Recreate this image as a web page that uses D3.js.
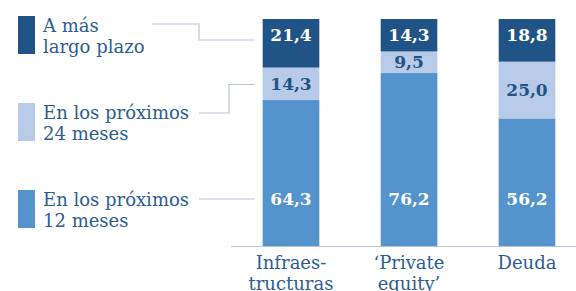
<!DOCTYPE html>
<html>
<head>
<meta charset="utf-8">
<script src="https://cdn.jsdelivr.net/npm/d3@7"></script>
<style>
  body { margin: 0; background: #fff; }
  svg { display: block; }
  text { font-family: 'DejaVu Serif', serif; }
</style>
</head>
<body>
<div id="chart"></div>
<script>
// Data
const categories = ['Infraes-|tructuras', '‘Private|equity’', 'Deuda'];
const series = ['12m', '24m', 'largo'];
const seriesLabels = [['En los próximos', '12 meses'], ['En los próximos', '24 meses'], ['A más', 'largo plazo']];
const values12 = [64.3, 76.2, 56.2];
const values24 = [14.3, 9.5, 25.0];
const valuesLargo = [21.4, 14.3, 18.8];

const color = ['#5593cc', '#b7cae8', '#215486'];
const textColor = '#2b5d92';
const lineColor = '#b9c3d9';

const width = 576;
const height = 291;

const svg = d3
  .select('#chart')
  .append('svg')
  .attr('width', width)
  .attr('height', height);

const rows = categories.map((c, i) => ({
  cat: c,
  '12m': values12[i],
  '24m': values24[i],
  largo: valuesLargo[i],
}));

const stacked = d3.stack().keys(series)(rows);

const x = d3.scaleBand().domain(categories).range([232, 586]).paddingInner(0.52).paddingOuter(0.26);
const y = d3.scaleLinear().domain([0, 100]).range([246, 19]);

// bars
stacked.forEach((layer, li) => {
  svg
    .append('g')
    .selectAll('rect')
    .data(layer)
    .join('rect')
    .attr('x', (d) => x(d.data.cat))
    .attr('y', (d) => y(d[1]))
    .attr('width', x.bandwidth())
    .attr('height', (d) => y(d[0]) - y(d[1]))
    .attr('fill', color[li]);
});

// value labels
const fmt = (v) => d3.format('.1f')(v).replace('.', ',');
stacked.forEach((layer, li) => {
  svg
    .append('g')
    .selectAll('text')
    .data(layer)
    .join('text')
    .attr('x', (d) => x(d.data.cat) + x.bandwidth() / 2)
    .attr('y', (d) => {
      if (li === 0) return y(0) - 47;
      if (li === 2) return y(100) + 16;
      return (y(d[0]) + y(d[1])) / 2;
    })
    .attr('dy', '0.36em')
    .attr('text-anchor', 'middle')
    .attr('font-size', '17px')
    .attr('font-weight', 'bold')
    .attr('fill', li === 1 ? color[2] : '#fff')
    .text((d) => fmt(d[1] - d[0]));
});

// baseline
svg
  .append('line')
  .attr('x1', 231)
  .attr('x2', width)
  .attr('y1', y(0) + 0.5)
  .attr('y2', y(0) + 0.5)
  .attr('stroke', lineColor)
  .attr('stroke-width', 1.2);

// category labels
categories.forEach((c) => {
  const t = svg
    .append('text')
    .attr('x', x(c) + x.bandwidth() / 2)
    .attr('y', 269)
    .attr('text-anchor', 'middle')
    .attr('font-size', '18px')
    .attr('fill', textColor);
  c.split('|').forEach((line, i) => {
    t.append('tspan')
      .attr('x', x(c) + x.bandwidth() / 2)
      .attr('dy', i === 0 ? 0 : 21)
      .text(line);
  });
});

// legend
const legendY = [209, 122, 35];
series.forEach((s, i) => {
  const cy = legendY[i];
  svg
    .append('rect')
    .attr('x', 18)
    .attr('y', cy - 19)
    .attr('width', 17)
    .attr('height', 38)
    .attr('fill', color[i]);
  const t = svg
    .append('text')
    .attr('x', 43)
    .attr('y', cy - 3)
    .attr('font-size', '18px')
    .attr('fill', textColor);
  seriesLabels[i].forEach((line, j) => {
    t.append('tspan').attr('x', 43).attr('dy', j === 0 ? 0 : 21).text(line);
  });
});

// connector lines
const barLeft = x(categories[0]) - 8;
const connectors = [
  [[199, 199], [barLeft, 199]],
  [[199, 113], [229, 113], [229, 84.5], [barLeft, 84.5]],
  [[152, 24], [199, 24], [199, 40], [barLeft, 40]],
];
connectors.forEach((pts) => {
  svg
    .append('path')
    .attr('d', d3.line()(pts))
    .attr('fill', 'none')
    .attr('stroke', lineColor)
    .attr('stroke-width', 1.2);
});
</script>
</body>
</html>
